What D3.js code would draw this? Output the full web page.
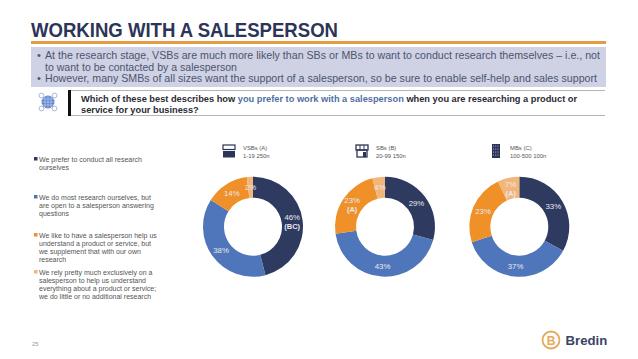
<!DOCTYPE html>
<html>
<head>
<meta charset="utf-8">
<script src="https://cdn.jsdelivr.net/npm/d3@7"></script>
<style>
  html, body { margin: 0; padding: 0; background: #fff; }
  svg { display: block; }
  text { font-family: "Liberation Sans", Arial, sans-serif; }
</style>
</head>
<body>
<div id="chart"></div>
<script>
// ── Data ────────────────────────────────────────────────────────────────
const categories = [
  ["We prefer to conduct all research", "ourselves"],
  ["We do most research ourselves, but", "are open to a salesperson answering", "questions"],
  ["We like to have a salesperson help us", "understand a product or service, but", "we supplement that with our own", "research"],
  ["We rely pretty much exclusively on a", "salesperson to help us understand", "everything about a product or service;", "we do little or no additional research"]
];
const vsbValues = [46, 38, 14, 2];
const sbValues  = [29, 43, 23, 4];
const mbValues  = [33, 37, 23, 7];
const vsbNotes  = ["(BC)", "", "", ""];
const sbNotes   = ["", "", "(A)", ""];
const mbNotes   = ["", "", "", "(A)"];
const groupNames = ["VSBs (A)", "SBs (B)", "MBs (C)"];
const groupSizes = ["1-19 250n", "20-99 150n", "100-500 100n"];
const bullets = [
  ["At the research stage, VSBs are much more likely than SBs or MBs to want to conduct research themselves \u2013 i.e., not", "to want to be contacted by a salesperson"],
  ["However, many SMBs of all sizes want the support of a salesperson, so be sure to enable self-help and sales support"]
];

const W = 638, H = 359;
const navy = "#2c3557";
const colors = d3.scaleOrdinal().domain(d3.range(4))
  .range(["#2e3a60", "#4f76bb", "#ef9128", "#f3b67a"]);

const svg = d3.select("#chart").append("svg").attr("width", W).attr("height", H);

// ── Header ──────────────────────────────────────────────────────────────
svg.append("text").attr("x", 31).attr("y", 37)
  .attr("font-size", 20.5).attr("font-weight", 700).attr("fill", navy)
  .attr("textLength", 307).attr("lengthAdjust", "spacingAndGlyphs")
  .text("WORKING WITH A SALESPERSON");
svg.append("rect").attr("x", 31).attr("y", 41).attr("width", 575).attr("height", 3).attr("fill", "#e39c42");
svg.append("rect").attr("x", 31).attr("y", 47).attr("width", 575).attr("height", 40).attr("fill", "#ced2e4");

const bulletWidths = [[555, 192], [552]];
let lineY = 59;
bullets.forEach((lines, i) => {
  svg.append("text").attr("x", 37).attr("y", lineY)
    .attr("font-size", 11).attr("fill", "#4d546e").text("\u2022");
  lines.forEach((line, j) => {
    svg.append("text").attr("x", 45).attr("y", lineY)
      .attr("font-size", 10.9).attr("fill", "#4d546e")
      .attr("textLength", bulletWidths[i][j]).attr("lengthAdjust", "spacingAndGlyphs")
      .text(line);
    lineY += 11.5;
  });
});

// ── Question box ────────────────────────────────────────────────────────
svg.append("line").attr("x1", 68).attr("x2", 605).attr("y1", 90.5).attr("y2", 90.5).attr("stroke", "#b5b5b5");
svg.append("line").attr("x1", 68).attr("x2", 605).attr("y1", 115.5).attr("y2", 115.5).attr("stroke", "#b5b5b5");
svg.append("rect").attr("x", 68).attr("y", 90).attr("width", 3).attr("height", 26).attr("fill", "#111");

const q1 = svg.append("text").attr("x", 81).attr("y", 101.5)
  .attr("font-size", 9.25).attr("font-weight", 700).attr("fill", "#2b2b33");
q1.append("tspan").text("Which of these best describes how ");
q1.append("tspan").attr("fill", "#4f6fa5").text("you prefer to work with a salesperson");
q1.append("tspan").text(" when you are researching a product or");
svg.append("text").attr("x", 81).attr("y", 112.5)
  .attr("font-size", 9.25).attr("font-weight", 700).attr("fill", "#2b2b33")
  .text("service for your business?");

// Globe icon
const globe = svg.append("g").attr("transform", "translate(48,102)");
globe.append("circle").attr("r", 6.5).attr("fill", "#5f86c8");
[-3, 0, 3].forEach(d => {
  globe.append("line").attr("x1", -6).attr("x2", 6).attr("y1", d).attr("y2", d).attr("stroke", "#dfe7f5").attr("stroke-width", 0.5);
  globe.append("line").attr("y1", -6).attr("y2", 6).attr("x1", d).attr("x2", d).attr("stroke", "#dfe7f5").attr("stroke-width", 0.5);
});
[[-6.5, -6.5], [6.5, -6.5], [-6.5, 6.5], [6.5, 6.5]].forEach(([x, y]) => {
  globe.append("circle").attr("cx", x).attr("cy", y).attr("r", 2.4)
    .attr("fill", "none").attr("stroke", "#8aa6d6").attr("stroke-width", 0.8);
});

// ── Legend ──────────────────────────────────────────────────────────────
const legendTops = [162, 200, 238, 275];
categories.forEach((lines, i) => {
  svg.append("rect").attr("x", 34).attr("y", legendTops[i] - 5)
    .attr("width", 3.5).attr("height", 3.5).attr("fill", colors(i));
  lines.forEach((line, j) => {
    svg.append("text").attr("x", 39).attr("y", legendTops[i] + j * 8)
      .attr("font-size", 7).attr("fill", "#555").text(line);
  });
});

svg.append("text").attr("x", 32).attr("y", 346)
  .attr("font-size", 6).attr("fill", "#9a9a9a").text("25");

// ── Donuts ──────────────────────────────────────────────────────────────
const pie = d3.pie().sort(null);
const arc = d3.arc().innerRadius(29).outerRadius(50);
const centerY = 226.7;

function drawDonut(cx, values, notes) {
  const g = svg.append("g").attr("transform", `translate(${cx},${centerY})`);
  const arcs = pie(values);
  g.selectAll("path").data(arcs).join("path")
    .attr("d", arc)
    .attr("fill", (d, i) => colors(i));
  arcs.forEach((d, i) => {
    const [x, y] = arc.centroid(d);
    const note = notes[i];
    const y0 = note ? y - 1.5 : y + 2.8;
    g.append("text").attr("x", x).attr("y", y0)
      .attr("text-anchor", "middle").attr("font-size", 7.8).attr("fill", "#e9e9ee")
      .text(d.data + "%");
    if (note) {
      g.append("text").attr("x", x).attr("y", y0 + 9)
        .attr("text-anchor", "middle").attr("font-size", 7.5).attr("font-weight", 700)
        .attr("fill", "#e9e9ee").text(note);
    }
  });
}
drawDonut(253, vsbValues, vsbNotes);
drawDonut(385, sbValues, sbNotes);
drawDonut(519.3, mbValues, mbNotes);

// ── Group captions + icons ──────────────────────────────────────────────
const captionX = [243, 376, 510];
groupNames.forEach((name, i) => {
  svg.append("text").attr("x", captionX[i]).attr("y", 150)
    .attr("font-size", 5.9).attr("fill", "#555").text(name);
  svg.append("text").attr("x", captionX[i]).attr("y", 158)
    .attr("font-size", 5.9).attr("fill", "#555").text(groupSizes[i]);
});

// VSB shop icon
const ic1 = svg.append("g").attr("transform", "translate(223,145)").attr("fill", navy);
ic1.append("rect").attr("width", 12).attr("height", 4.5).attr("fill", "none").attr("stroke", navy).attr("stroke-width", 1.2);
ic1.append("rect").attr("y", 6).attr("width", 12).attr("height", 6.5);

// SB store icon
const ic2 = svg.append("g").attr("transform", "translate(356,145)");
ic2.append("rect").attr("width", 12).attr("height", 5).attr("fill", "none").attr("stroke", navy).attr("stroke-width", 1.3);
[4, 8].forEach(x => ic2.append("line").attr("x1", x).attr("x2", x).attr("y1", 0).attr("y2", 5).attr("stroke", navy).attr("stroke-width", 1));
ic2.append("rect").attr("x", 1).attr("y", 5).attr("width", 10).attr("height", 7).attr("fill", "none").attr("stroke", navy).attr("stroke-width", 1.3);
ic2.append("rect").attr("x", 7).attr("y", 7).attr("width", 3).attr("height", 5).attr("fill", navy);

// MB building icon
const ic3 = svg.append("g").attr("transform", "translate(492,144)");
ic3.append("rect").attr("width", 8).attr("height", 14).attr("fill", navy);
d3.range(4).forEach(r => d3.range(3).forEach(c => {
  ic3.append("rect").attr("x", 1 + c * 2.2).attr("y", 1.5 + r * 3)
    .attr("width", 1).attr("height", 1.2).attr("fill", "#9aa3bd");
}));

// ── Logo ────────────────────────────────────────────────────────────────
svg.append("circle").attr("cx", 551).attr("cy", 340).attr("r", 8.5)
  .attr("fill", "none").attr("stroke", "#e7a95c").attr("stroke-width", 1.8);
svg.append("text").attr("x", 551).attr("y", 344.5).attr("text-anchor", "middle")
  .attr("font-size", 12).attr("font-weight", 700).attr("fill", "#e7a95c").text("B");
svg.append("text").attr("x", 565.5).attr("y", 345)
  .attr("font-size", 13.2).attr("font-weight", 700).attr("fill", "#3b4463").text("Bredin");
</script>
</body>
</html>
